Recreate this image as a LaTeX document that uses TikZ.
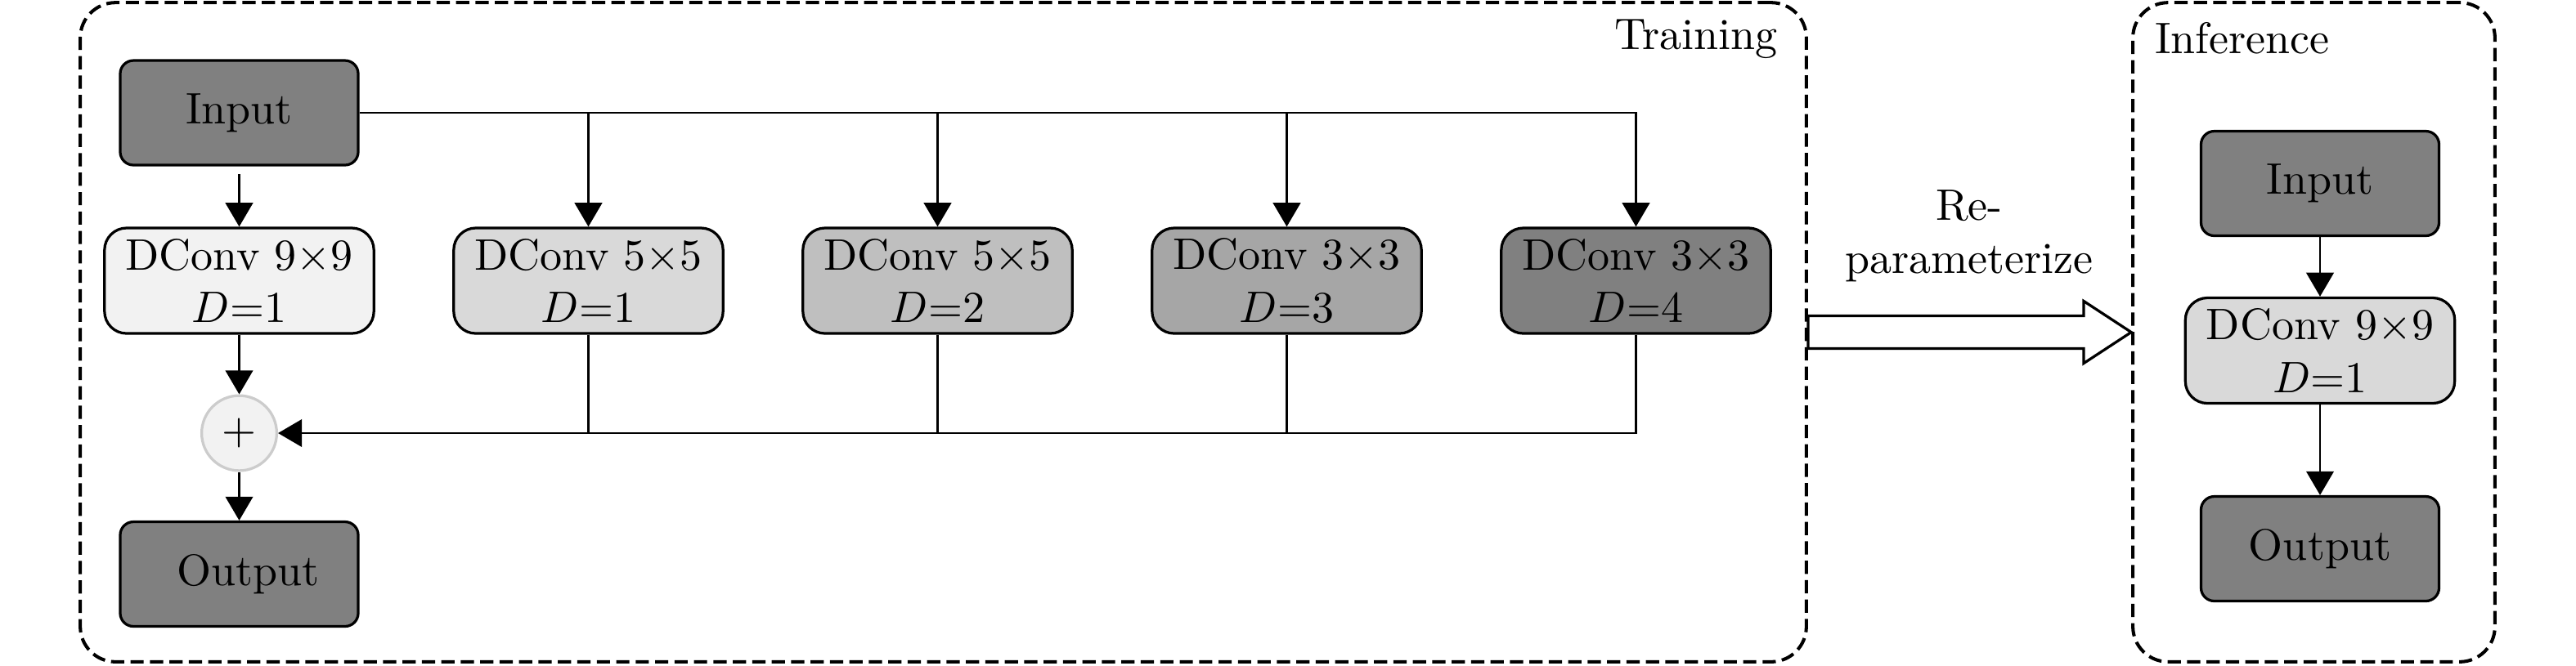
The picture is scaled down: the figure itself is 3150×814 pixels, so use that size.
\documentclass[tikz,border=0pt]{standalone}
\usetikzlibrary{arrows.meta,calc}
\begin{document}
\begin{tikzpicture}[x=0.18519pt,y=-0.18519pt,
  arr/.style={line width=0.5pt,-{Triangle[length=5.4pt,width=6.2pt]}},
  ln/.style={line width=0.5pt},
  iobox/.style={draw,line width=0.6pt,fill=black!50,rounded corners=3pt,minimum width=53.9pt,minimum height=23.7pt,inner sep=1pt},
  convbox/.style={draw,line width=0.6pt,rounded corners=5pt,minimum width=61pt,minimum height=23.9pt,inner sep=1pt,align=center},
  group/.style={draw,line width=0.75pt,dash pattern=on 3pt off 1.4pt,rounded corners=8pt},
  sumnode/.style={circle,draw=black!20,fill=black!5,line width=0.6pt,minimum size=17pt,inner sep=0pt},
  grouplabel/.style={inner sep=0pt}]
\useasboundingbox (0,0) rectangle (3150,814);
% group boxes
\node[group,minimum width=390.9pt,minimum height=149.4pt] (tr) at (1153.5,406.5) {};
\node[group,minimum width=82pt,minimum height=149.4pt] (inf) at (2829.5,406.5) {};
\node[grouplabel,anchor=base east] (trl) at (2175,60) {Training};
\node[grouplabel,anchor=base west] (infl) at (2634,65) {Inference};
% training
\node[iobox] (in) at (292.5,138) {Input};
\node[convbox,fill=black!5] (d1) at (292.5,343.5) {DConv 9$\times$9\\$D$=1};
\node[convbox,fill=black!15] (d2) at (719.5,343.5) {DConv 5$\times$5\\$D$=1};
\node[convbox,fill=black!25] (d3) at (1146.5,343.5) {DConv 5$\times$5\\$D$=2};
\node[convbox,fill=black!35] (d4) at (1573.5,343.5) {DConv 3$\times$3\\$D$=3};
\node[convbox,fill=black!50] (d5) at (2000.5,343.5) {DConv 3$\times$3\\$D$=4};
\node[sumnode] (sum) at (292.5,530) {$+$};
\node[iobox] (out) at (292.5,702.5) {\hspace{4pt}Output};
\draw[arr,shorten <=1.7pt] (in.south) -- (d1.north);
\draw[arr] (in.east) -| (d5.north);
\draw[arr] (d2.north |- in.east) -- (d2.north);
\draw[arr] (d3.north |- in.east) -- (d3.north);
\draw[arr] (d4.north |- in.east) -- (d4.north);
\draw[arr] (d1.south) -- (sum.north);
\draw[arr] (d5.south) |- (sum.east);
\draw[ln] (d2.south) -- (d2.south |- sum.east);
\draw[ln] (d3.south) -- (d3.south |- sum.east);
\draw[ln] (d4.south) -- (d4.south |- sum.east);
\draw[arr] (sum.south) -- (out.north);
% re-parameterize arrow
\node[align=center] (rp) at (2408,289) {Re-\\parameterize};
\coordinate (a) at (tr.east);
\coordinate (b) at (inf.west);
\draw[line width=0.6pt,fill=white] ($(a)+(0,-20)$) -- ($(b)+(-58,-20)$) -- ($(b)+(-58,-38)$) -- (b) -- ($(b)+(-58,38)$) -- ($(b)+(-58,20)$) -- ($(a)+(0,20)$) -- cycle;
% inference
\node[iobox] (iin) at (2837,224.5) {Input};
\node[convbox,fill=black!15] (id) at (2837,429) {DConv 9$\times$9\\$D$=1};
\node[iobox] (iout) at (2837,671.5) {Output};
\draw[arr] (iin.south) -- (id.north);
\draw[arr] (id.south) -- (iout.north);
\end{tikzpicture}
\end{document}
